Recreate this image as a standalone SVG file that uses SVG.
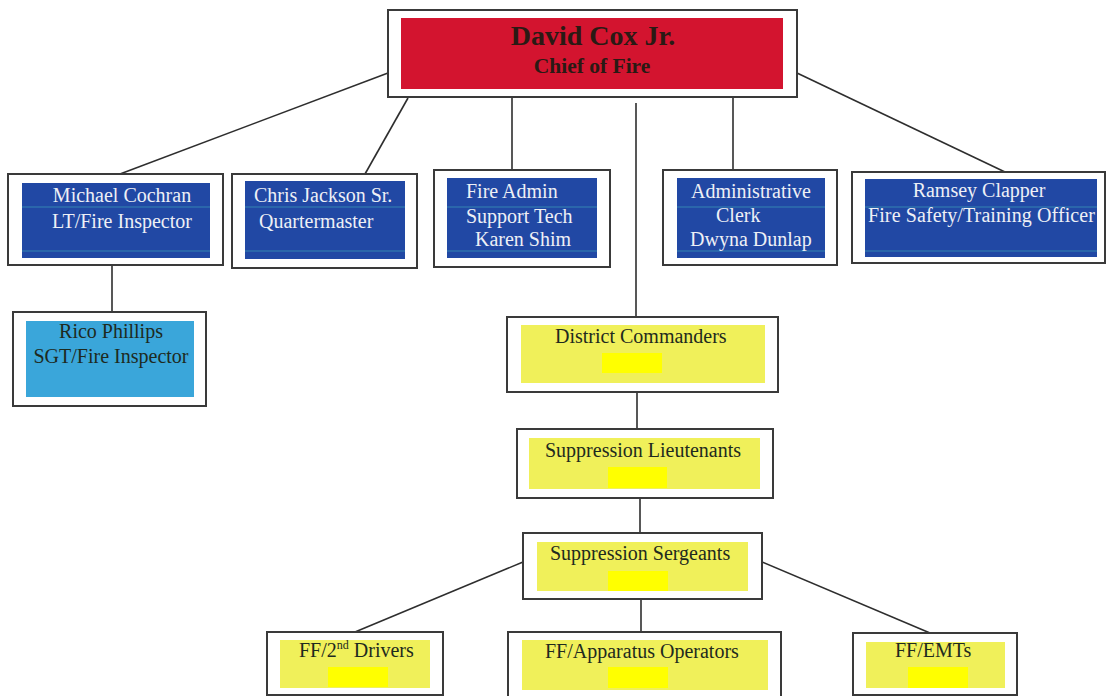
<svg xmlns="http://www.w3.org/2000/svg" width="1107" height="696" viewBox="0 0 1107 696">
<style>
.frame{fill:#ffffff;stroke:#3a3a3a;stroke-width:2}
.red{fill:#d3142f}
.blue{fill:#2148a4}
.lblue{fill:#3aa6da}
.yel{fill:#f0f05a}
.hide{fill:#ffff00}
.scan{stroke:#3fa0b8;stroke-width:1;opacity:0.7}
.t{font-family:"Liberation Serif","Times New Roman",serif;font-size:20px}
.w{fill:#eef0f6}
.d{fill:#1e2a1e}
.title{font-family:"Liberation Serif","Times New Roman",serif;font-weight:bold;fill:#2a1a14}
.conn line{stroke:#2e2e2e;stroke-width:1.6}
</style>
<rect width="1107" height="696" fill="#ffffff"/>
<g class="conn" id="connectors">
<line x1="388" y1="73" x2="120" y2="174"/>
<line x1="408" y1="98" x2="365" y2="174"/>
<line x1="512" y1="97" x2="512" y2="170"/>
<line x1="636" y1="103" x2="636" y2="317"/>
<line x1="733" y1="97" x2="733" y2="170"/>
<line x1="797" y1="73" x2="1005" y2="172"/>
<line x1="112" y1="265" x2="112" y2="312"/>
<line x1="637" y1="392" x2="637" y2="429"/>
<line x1="640" y1="498" x2="640" y2="533"/>
<line x1="523" y1="562" x2="355" y2="632"/>
<line x1="641" y1="599" x2="641" y2="632"/>
<line x1="762" y1="562" x2="930" y2="633"/>
</g>
<g id="chief">
<rect class="frame" x="388" y="10" width="409" height="87"/>
<rect class="red" x="401" y="18" width="382" height="71"/>
<text class="title" x="593" y="45" text-anchor="middle" font-size="28">David Cox Jr.</text>
<text class="title" x="592" y="73" text-anchor="middle" font-size="21.5">Chief of Fire</text>
</g>
<g id="cochran">
<rect class="frame" x="8" y="174" width="215" height="91"/>
<rect class="blue" x="22" y="183" width="188" height="75"/>
<line class="scan" x1="22" y1="207" x2="210" y2="207"/>
<line class="scan" x1="22" y1="251" x2="210" y2="251"/>
<text class="t w" x="122" y="202" text-anchor="middle">Michael Cochran</text>
<text class="t w" x="122" y="228" text-anchor="middle">LT/Fire Inspector</text>
</g>
<g id="jackson">
<rect class="frame" x="232" y="174" width="185" height="94"/>
<rect class="blue" x="245" y="181" width="160" height="78"/>
<line class="scan" x1="245" y1="207" x2="405" y2="207"/>
<line class="scan" x1="245" y1="251" x2="405" y2="251"/>
<text class="t w" x="254" y="202">Chris Jackson Sr.</text>
<text class="t w" x="259" y="228">Quartermaster</text>
</g>
<g id="fireadmin">
<rect class="frame" x="434" y="170" width="176" height="97"/>
<rect class="blue" x="447" y="178" width="150" height="80"/>
<line class="scan" x1="447" y1="207" x2="597" y2="207"/>
<line class="scan" x1="447" y1="251" x2="597" y2="251"/>
<text class="t w" x="466" y="198">Fire Admin</text>
<text class="t w" x="466" y="223">Support Tech</text>
<text class="t w" x="475" y="246">Karen Shim</text>
</g>
<g id="clerk">
<rect class="frame" x="663" y="170" width="174" height="95"/>
<rect class="blue" x="677" y="178" width="148" height="80"/>
<line class="scan" x1="677" y1="207" x2="825" y2="207"/>
<line class="scan" x1="677" y1="251" x2="825" y2="251"/>
<text class="t w" x="691" y="198">Administrative</text>
<text class="t w" x="716" y="222">Clerk</text>
<text class="t w" x="690" y="246">Dwyna Dunlap</text>
</g>
<g id="clapper">
<rect class="frame" x="852" y="172" width="253" height="91"/>
<rect class="blue" x="865" y="179" width="232" height="78"/>
<line class="scan" x1="865" y1="207" x2="1097" y2="207"/>
<line class="scan" x1="865" y1="251" x2="1097" y2="251"/>
<text class="t w" x="979" y="197" text-anchor="middle">Ramsey Clapper</text>
<text class="t w" x="868" y="222" textLength="227">Fire Safety/Training Officer</text>
</g>
<g id="phillips">
<rect class="frame" x="13" y="312" width="193" height="94"/>
<rect class="lblue" x="26" y="321" width="168" height="76"/>
<text class="t d" x="111" y="338" text-anchor="middle">Rico Phillips</text>
<text class="t d" x="111" y="363" text-anchor="middle">SGT/Fire Inspector</text>
</g>
<g id="district">
<rect class="frame" x="507" y="317" width="271" height="75"/>
<rect class="yel" x="521" y="325" width="244" height="58"/>
<rect class="hide" x="602" y="353" width="60" height="20"/>
<text class="t d" x="555" y="343">District Commanders</text>
</g>
<g id="lieutenants">
<rect class="frame" x="517" y="429" width="256" height="69"/>
<rect class="yel" x="529" y="438" width="231" height="51"/>
<rect class="hide" x="608" y="467" width="59" height="21"/>
<text class="t d" x="545" y="457">Suppression Lieutenants</text>
</g>
<g id="sergeants">
<rect class="frame" x="523" y="533" width="239" height="66"/>
<rect class="yel" x="537" y="542" width="211" height="49"/>
<rect class="hide" x="608" y="571" width="60" height="20"/>
<text class="t d" x="550" y="560">Suppression Sergeants</text>
</g>
<g id="drivers">
<rect class="frame" x="267" y="632" width="176" height="63"/>
<rect class="yel" x="280" y="640" width="150" height="48"/>
<rect class="hide" x="328" y="667" width="60" height="20"/>
<text class="t d" x="299" y="657">FF/2<tspan font-size="12" dy="-8">nd</tspan><tspan dy="8"> Drivers</tspan></text>
</g>
<g id="operators">
<rect class="frame" x="508" y="632" width="273" height="66"/>
<rect class="yel" x="522" y="640" width="246" height="50"/>
<rect class="hide" x="608" y="667" width="60" height="21"/>
<text class="t d" x="545" y="658">FF/Apparatus Operators</text>
</g>
<g id="emts">
<rect class="frame" x="853" y="633" width="164" height="62"/>
<rect class="yel" x="866" y="642" width="139" height="46"/>
<rect class="hide" x="908" y="667" width="60" height="21"/>
<text class="t d" x="895" y="657">FF/EMTs</text>
</g>
</svg>
